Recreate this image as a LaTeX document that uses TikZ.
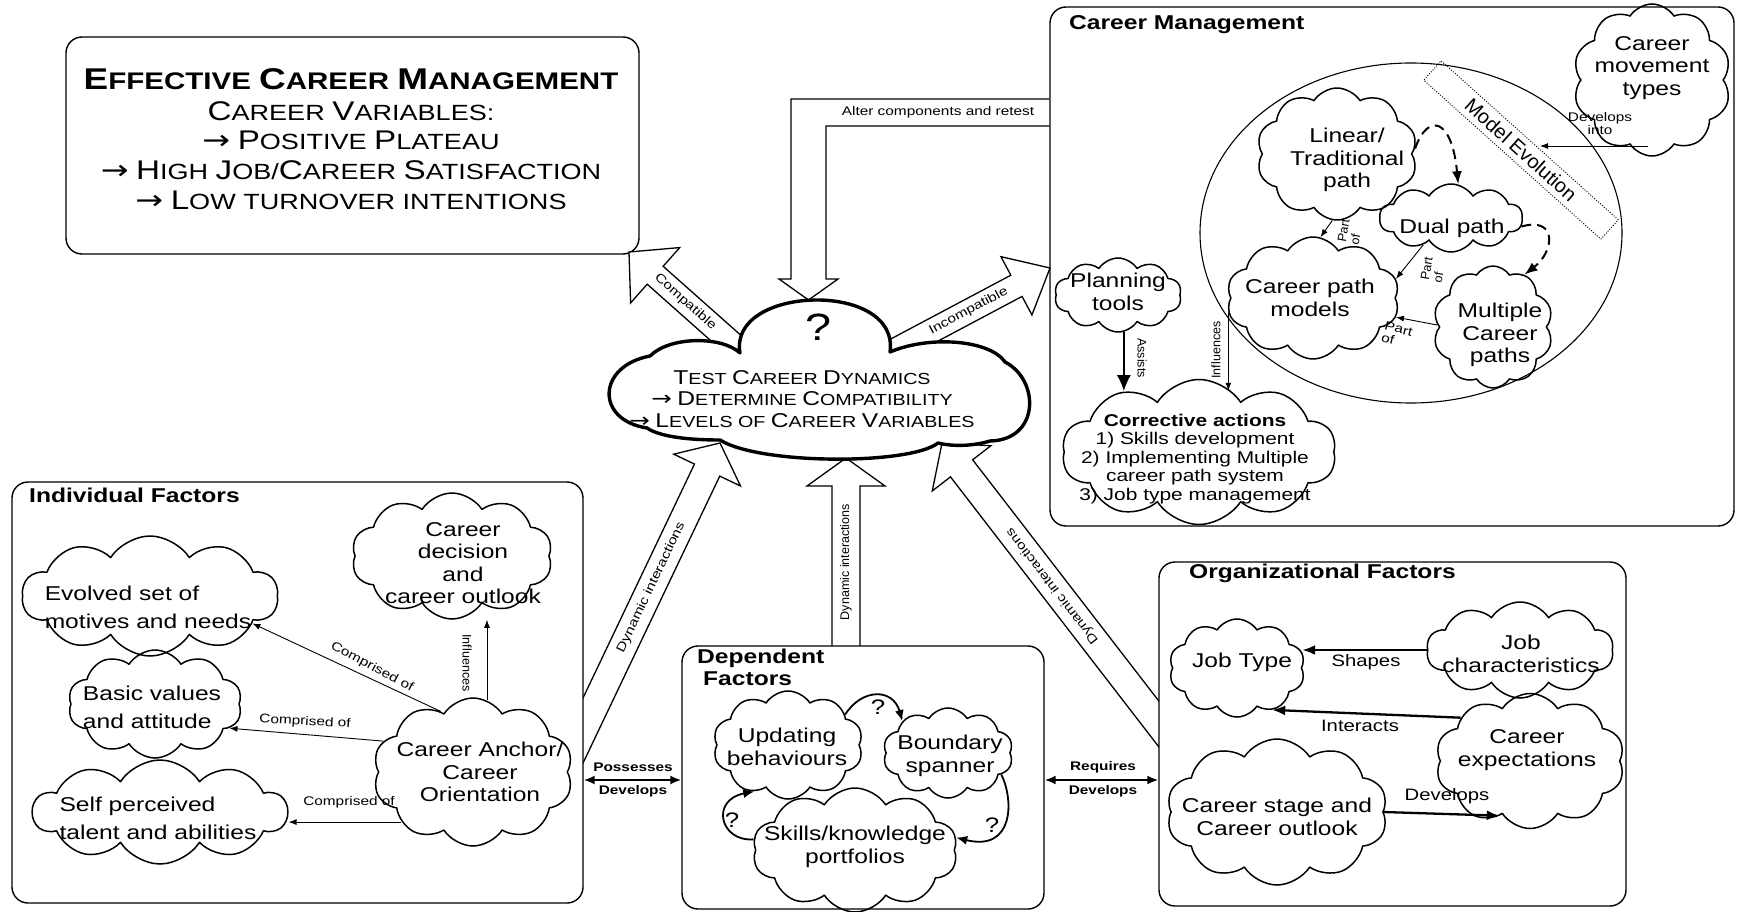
\documentclass[tikz,border=0pt]{standalone}
\usepackage{fontspec}
\setmainfont{Liberation Sans}[FakeStretch=1.23]
\newfontfamily\plainsans{Liberation Sans}
\newfontfamily\arrowsans{DejaVu Sans}[FakeStretch=1.23]
\usetikzlibrary{shapes.symbols,shapes.geometric,arrows.meta,calc}

% one capital letter of a small-caps word, set at a larger size
\newcommand\scl[2]{{\fontsize{#1}{#1}\selectfont #2}}
% right arrow glyph at a given size
\newcommand\rarr[1]{{\arrowsans\fontsize{#1}{#1}\selectfont →}}

% wide outlined block arrow: base, tip, half shaft, half head, head length
\newcommand\hollowarrow[5]{%
  \coordinate (ha-h) at ($(#2)!#5!(#1)$);
  \draw[hollow] ($(#1)!#3!90:(#2)$) -- ($(ha-h)!#3!90:(#2)$) -- ($(ha-h)!#4!90:(#2)$) -- (#2)
    -- ($(ha-h)!#4!-90:(#2)$) -- ($(ha-h)!#3!-90:(#2)$) -- ($(#1)!#3!-90:(#2)$) -- cycle;}

% cloud outline: name, x, y, width, height, extra options
\newcommand\cloudat[6]{\node[puff, minimum width=#4pt, minimum height=#5pt, #6] (#1) at (#2,#3) {};}

\begin{document}
\begin{tikzpicture}[x=1pt, y=-1pt, line join=round,
  box/.style={draw, rounded corners=16pt, line width=1.4pt, fill=white, inner sep=0pt},
  puff/.style={draw, cloud, cloud puffs=10, cloud puff arc=115, cloud ignores aspect, line width=1.5pt, inner sep=0pt},
  ctext/.style={align=center, inner sep=0pt, font=\fontsize{20}{22.5}\selectfont},
  ltext/.style={align=left, inner sep=0pt, font=\fontsize{20}{28}\selectfont},
  lbl/.style={inner sep=0pt, font=\fontsize{12.5}{13}\selectfont},
  blbl/.style={inner sep=0pt, font=\bfseries\fontsize{12.5}{13}\selectfont},
  vlbl/.style={inner sep=0pt, font=\plainsans\fontsize{12.5}{13}\selectfont},
  midlbl/.style={inner sep=0pt, font=\fontsize{16.5}{18}\selectfont},
  title/.style={anchor=base west, inner sep=0pt, font=\bfseries\fontsize{20}{22}\selectfont},
  hollow/.style={draw, line width=1.3pt, fill=white, line join=miter},
  conn/.style={-{Latex[length=8pt,width=6pt]}, line width=0.9pt},
  thk/.style={-{Latex[length=13pt,width=10pt]}, line width=2.3pt},
  curv/.style={-{Latex[length=11pt,width=9pt]}, line width=1.8pt},
  dsh/.style={-{Latex[length=13pt,width=10pt]}, line width=2pt, dash pattern=on 10pt off 6pt},
  dbl/.style={{Latex[length=11pt,width=9pt]}-{Latex[length=11pt,width=9pt]}, line width=2pt},
  qmark/.style={inner sep=0pt, font=\fontsize{21}{21}\selectfont}]

\useasboundingbox (0,0) rectangle (1737,912);

% ---- block arrows rising from the factor groups (bases hidden by the boxes)
\coordinate (dynL-b) at (548,804); \coordinate (dynL-t) at (720,443);
\hollowarrow{dynL-b}{dynL-t}{14pt}{37pt}{30pt}
\coordinate (dynM-b) at (846,700); \coordinate (dynM-t) at (846,458);
\hollowarrow{dynM-b}{dynM-t}{14pt}{39pt}{28pt}
\coordinate (dynR-b) at (1199,776); \coordinate (dynR-t) at (942,443);
\hollowarrow{dynR-b}{dynR-t}{14pt}{37pt}{32pt}

% ---- group boxes
\node[box, minimum width=573pt, minimum height=217pt] (topbox) at (352.5,145.5) {};
\node[box, minimum width=571pt, minimum height=421pt] (indiv) at (297.5,692.5) {};
\node[box, minimum width=362pt, minimum height=263pt] (dep) at (863,777.5) {};
\node[box, minimum width=467pt, minimum height=344pt] (org) at (1392.5,734) {};
\node[box, minimum width=684pt, minimum height=519pt] (cm) at (1392,266.5) {};

\path (dynL-b) -- (dynL-t) node[pos=0.6, sloped, lbl] (dynL-l) {Dynamic interactions};
\path (dynM-b) -- (dynM-t) node[pos=0.57, sloped, vlbl] (dynM-l) {Dynamic interactions};
\path (dynR-b) -- (dynR-t) node[pos=0.57, sloped, allow upside down, lbl] (dynR-l) {Dynamic interactions};

% ---- goal box
\node[anchor=base, inner sep=0pt, font=\bfseries\fontsize{24}{24}\selectfont] (tl1) at (351,90)
  {\scl{30}{E}FFECTIVE \scl{30}{C}AREER \scl{30}{M}ANAGEMENT};
\node[anchor=base, inner sep=0pt, font=\fontsize{22}{22}\selectfont] (tl2) at (351,121)
  {\scl{27}{C}AREER \scl{27}{V}ARIABLES:};
\node[anchor=base, inner sep=0pt, font=\fontsize{22}{22}\selectfont] (tl3) at (351,150)
  {\rarr{27} \scl{27}{P}OSITIVE \scl{27}{P}LATEAU};
\node[anchor=base, inner sep=0pt, font=\fontsize{22}{22}\selectfont] (tl4) at (351,180)
  {\rarr{27} \scl{27}{H}IGH \scl{27}{J}OB/\scl{27}{C}AREER \scl{27}{S}ATISFACTION};
\node[anchor=base, inner sep=0pt, font=\fontsize{22}{22}\selectfont] (tl5) at (351,210)
  {\rarr{27} \scl{27}{L}OW TURNOVER INTENTIONS};

% ---- titles
\node[title] (indiv-title) at (29,502) {Individual Factors};
\node[title] (cm-title) at (1069,30) {Career Management};
\node[title] (org-title) at (1189,578) {Organizational Factors};
\node[title] (dep-title1) at (697,663) {Dependent};
\node[title] (dep-title2) at (703,685) {Factors};

% ---- individual factors
\cloudat{evolved}{150}{596}{256}{120}{}
\cloudat{basic}{155}{704}{174}{108}{}
\cloudat{self}{160}{812}{254}{104}{}
\cloudat{decision}{452}{556}{201}{126}{}
\cloudat{anchor}{473}{772}{200}{148}{}
\node[ltext] (evolved-t) at (148,607) {Evolved set of\\motives and needs};
\node[ltext] (basic-t) at (152,707) {Basic values\\and attitude};
\node[ltext] (self-t) at (158,818) {Self perceived\\talent and abilities};
\node[ctext] (decision-t) at (463,563) {Career\\decision\\and\\career outlook};
\node[ctext] (anchor-t) at (480,772) {Career Anchor/\\Career\\Orientation};

\draw[conn] (anchor.118) -- (evolved.-15);
\draw[conn] (anchor.161) -- (basic.-18);
\draw[conn] (anchor.215) -- (self.east |- anchor.215);
\draw[conn] (anchor.79) -- (anchor.79 |- decision.south);
\node[lbl, rotate=-28] (cmp1) at (372,667) {Comprised of};
\node[lbl, rotate=-3] (cmp2) at (305,722) {Comprised of};
\node[lbl] (cmp3) at (349,802) {Comprised of};
\node[vlbl, rotate=-90] (infl1) at (467,663) {Influences};

% ---- links between the groups
\coordinate (pd) at (633,780);
\draw[dbl] (pd -| indiv.east) -- (pd -| dep.west);
\node[blbl] (poss) at (633,767) {Possesses};
\node[blbl] (dev1) at (633,791) {Develops};
\coordinate (rd) at (1102,780);
\draw[dbl] (rd -| dep.east) -- (rd -| org.west);
\node[blbl] (req) at (1103,767) {Requires};
\node[blbl] (dev2) at (1103,791) {Develops};

% ---- dependent factors
\cloudat{updating}{788}{745}{150}{108}{}
\cloudat{boundary}{948}{753}{130}{90}{}
\cloudat{skills}{855}{850}{205}{124}{}
\node[ctext] (updating-t) at (787,747) {Updating\\behaviours};
\node[ctext] (boundary-t) at (950,756) {Boundary\\spanner};
\node[ctext] (skills-t) at (855,847) {Skills/knowledge\\portfolios};
\draw[curv] (updating.28) .. controls (862,688) and (893,688) .. (boundary.145);
\draw[curv] (skills.174) .. controls (720,842) and (710,800) .. (updating.234);
\draw[curv] (boundary.-22) .. controls (1014,800) and (1014,852) .. (skills.7);
\node[qmark] (q1) at (878,707) {?};
\node[qmark] (q2) at (732,820) {?};
\node[qmark] (q3) at (992,825) {?};

% ---- organizational factors
\cloudat{jobtype}{1237}{668}{136}{98}{}
\cloudat{jobchar}{1520}{650}{187}{96}{}
\cloudat{careerexp}{1530}{761}{189}{135}{}
\cloudat{stage}{1277}{812}{221}{146}{}
\node[ctext] (jobtype-t) at (1242,662) {Job Type};
\node[ctext] (jobchar-t) at (1521,654) {Job\\characteristics};
\node[ctext] (careerexp-t) at (1527,750) {Career\\expectations};
\node[ctext] (stage-t) at (1277,817) {Career stage and\\Career outlook};
\draw[thk] (jobchar.west) -- (jobtype.east |- jobchar.west);
\draw[thk] (careerexp.148) -- (jobtype.-50);
\draw[thk] (stage.east) -- (careerexp.241);
\node[midlbl] (shapes) at (1366,662) {Shapes};
\node[midlbl] (interacts) at (1360,726) {Interacts};
\node[midlbl] (dev3) at (1447,796) {Develops};

% ---- career management
\node[draw, ellipse, line width=1.1pt, minimum width=422pt, minimum height=340pt] (pathmodels) at (1411,233) {};
\node[draw, dash pattern=on 1pt off 1.6pt, line width=0.9pt, rotate=-41.9, minimum width=238pt,
  minimum height=26pt, inner sep=0pt, font=\plainsans\fontsize{20}{20}\selectfont] (me) at (1521,150) {Model Evolution};
\cloudat{movement}{1652}{80}{158}{152}{}
\cloudat{linear}{1337}{154}{161}{132}{}
\cloudat{dual}{1451}{218}{143}{68}{}
\cloudat{cpm}{1313}{298}{173}{122}{}
\cloudat{multiple}{1493}{327}{120}{122}{}
\cloudat{planning}{1118}{295}{127}{74}{}
\cloudat{corrective}{1199}{452}{274}{145}{}
\node[ctext] (movement-t) at (1652,68) {Career\\movement\\types};
\node[ctext] (linear-t) at (1347,160) {Linear/\\Traditional\\path};
\node[ctext] (dual-t) at (1452,228) {Dual path};
\node[ctext] (cpm-t) at (1310,298) {Career path\\models};
\node[ctext] (multiple-t) at (1500,335) {Multiple\\Career\\paths};
\node[ctext] (planning-t) at (1118,292) {Planning\\tools};
\node[align=center, inner sep=0pt, font=\fontsize{17}{18.4}\selectfont] (corrective-t) at (1195,459)
  {\textbf{Corrective actions}\\1) Skills development\\2) Implementing Multiple\\career path system\\3) Job type management};

\coordinate (devinto) at (1540,146);
\draw[conn] (movement.-93 |- devinto) -- (devinto);
\node[lbl, align=center] (devinto-l) at (1600,124) {Develops\\into};
\draw[conn] (linear.-94) -- (cpm.83);
\draw[conn] (dual.-136) -- (cpm.13);
\draw[conn] (multiple.178) -- (cpm.-13);
\node[vlbl, rotate=80, align=left] (part1) at (1350,232) {Part\\of};
\node[vlbl, rotate=80, align=left] (part2) at (1433,270) {Part\\of};
\node[lbl, rotate=-15, align=left] (part3) at (1397,335) {Part\\of};
\draw[dsh] (linear.4) .. controls (1428,112) and (1452,118) .. (dual.78);
\draw[dsh] (dual.-7) .. controls (1556,216) and (1556,250) .. (multiple.59);
\draw[-{Latex[length=16pt,width=14pt]}, line width=1.6pt] (planning.-81) -- (planning.-81 |- corrective.140);
\draw[conn] (cpm.190) -- (cpm.190 |- corrective.62);
\node[vlbl, rotate=-90] (assists) at (1142,358) {Assists};
\node[vlbl, rotate=90] (infl2) at (1216,350) {Influences};

% ---- feedback loop and outcome arrows
\coordinate (alt-o) at (900,99);
\coordinate (alt-i) at (900,126);
\draw[line width=1.3pt, line join=miter] (cm.west |- alt-o) -- (791,99) -- (791,279) -- (779,279) -- (808.5,300)
  -- (838,279) -- (826,279) -- (826,126) -- (cm.west |- alt-i);
\node[lbl] (alter) at (938,112) {Alter components and retest};

\coordinate (cmp-b) at (754,363); \coordinate (cmp-t) at (629,252);
\hollowarrow{cmp-b}{cmp-t}{12pt}{37pt}{35pt}
\path (cmp-b) -- (cmp-t) node[pos=0.55, sloped, lbl] (cmp-l) {Compatible};
\coordinate (inc-b) at (873,362); \coordinate (inc-t) at (1050,268);
\hollowarrow{inc-b}{inc-t}{12pt}{33pt}{38pt}
\path (inc-b) -- (inc-t) node[pos=0.54, sloped, lbl] (inc-l) {Incompatible};

% ---- central test cloud
\draw[line width=3.4pt, fill=white] (740,353) .. controls (728,285) and (900,280) .. (890,352)
  .. controls (930,335) and (990,340) .. (1005,362)
  .. controls (1040,380) and (1040,440) .. (990,441)
  .. controls (970,447) and (950,446) .. (938,443)
  .. controls (910,465) and (760,465) .. (720,440)
  .. controls (690,440) and (660,437) .. (647,428)
  .. controls (595,420) and (597,366) .. (650,356)
  .. controls (670,336) and (722,336) .. (740,353) -- cycle;
\node[inner sep=0pt, font=\fontsize{38}{38}\selectfont] (test-q) at (818,327) {?};
\node[align=center, inner sep=0pt, font=\fontsize{16}{21.5}\selectfont] (test-t) at (802,399)
  {\scl{20}{T}EST \scl{20}{C}AREER \scl{20}{D}YNAMICS\\
   \rarr{20} \scl{20}{D}ETERMINE \scl{20}{C}OMPATIBILITY\\
   \rarr{20} \scl{20}{L}EVELS OF \scl{20}{C}AREER \scl{20}{V}ARIABLES};
\end{tikzpicture}
\end{document}
